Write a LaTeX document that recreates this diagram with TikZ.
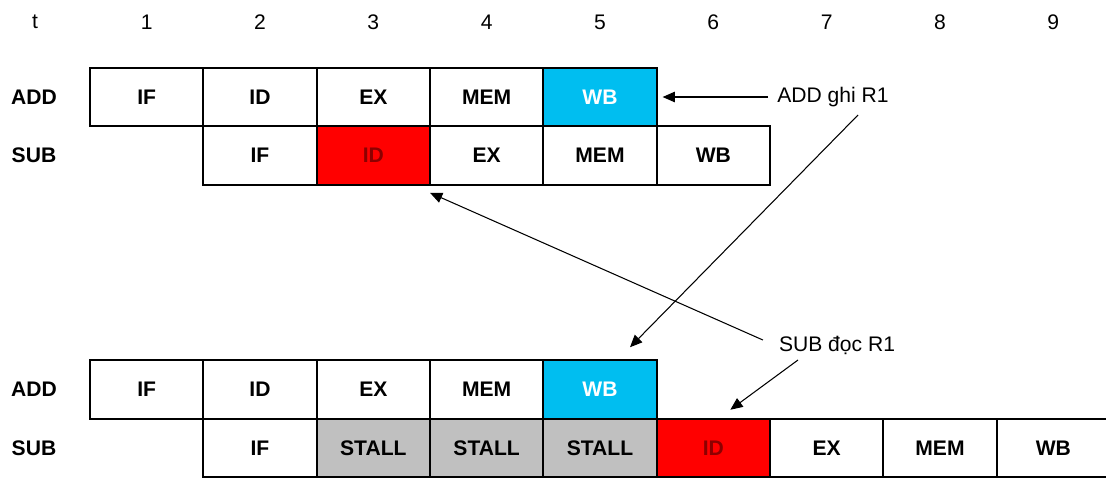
\documentclass[tikz,border=0pt]{standalone}
\usepackage{fontspec}
\setmainfont{Liberation Sans}
\usetikzlibrary{arrows.meta,calc}
\definecolor{wbblue}{RGB}{0,190,240}
\definecolor{hazred}{RGB}{255,0,0}
\definecolor{idtext}{RGB}{140,0,0}
\definecolor{stallgray}{RGB}{192,192,192}
\tikzset{
  cell/.style={draw, line width=1.2pt, minimum width=2.266cm, minimum height=1.17cm,
    inner sep=0pt, outer sep=0pt, font=\fontsize{12}{14}\selectfont\bfseries},
  wbcell/.style={cell, fill=wbblue, text=white},
  idcell/.style={cell, fill=hazred, text=idtext},
  stallcell/.style={cell, fill=stallgray},
  lab/.style={font=\fontsize{12}{14}\selectfont\bfseries},
  note/.style={inner sep=1pt, font=\fontsize{12}{14}\selectfont},
  ptr/.style={-{Triangle[length=7pt,width=6pt]}, line width=0.6pt}
}
\begin{document}
\begin{tikzpicture}[x=0.02cm,y=-0.02cm, font=\fontsize{12}{14}\selectfont]
\useasboundingbox (0,0) rectangle (1106,477);

% Time axis
\node (tt) at (35,22) {t};
\foreach \n in {1,...,9}{
  \node (t\n) at ({146.67+113.33*(\n-1)},22) {\n};
}

% Without stall
\node[lab] (addup) at (34,97) {ADD};
\node[lab] (subup) at (34,155.5) {SUB};
\foreach \lab/\sty [count=\i] in {IF/cell,ID/cell,EX/cell,MEM/cell,WB/wbcell}{
  \node[\sty] (a\i) at ({146.67+113.33*(\i-1)},97) {\lab};
}
\foreach \lab/\sty [count=\i] in {IF/cell,ID/idcell,EX/cell,MEM/cell,WB/cell}{
  \node[\sty] (s\i) at ({146.67+113.33*\i},155.5) {\lab};
}

% With stall
\node[lab] (adddn) at (34,389.5) {ADD};
\node[lab] (subdn) at (34,448) {SUB};
\foreach \lab/\sty [count=\i] in {IF/cell,ID/cell,EX/cell,MEM/cell,WB/wbcell}{
  \node[\sty] (b\i) at ({146.67+113.33*(\i-1)},389.5) {\lab};
}
\foreach \lab/\sty [count=\i] in {IF/cell,STALL/stallcell,STALL/stallcell,STALL/stallcell,ID/idcell,EX/cell,MEM/cell,WB/cell}{
  \node[\sty] (d\i) at ({146.67+113.33*\i},448) {\lab};
}

% Notes
\node[note] (ghi) at (833,97) {ADD ghi R1};
\node[note] (doc) at (837,345) {SUB đọc R1};

\draw[ptr] ($(ghi.west)+(-7,0)$) -- ($(a5.east |- ghi.west)+(6,0)$);
\draw[ptr] ($(ghi.center)+(25,18)$) -- ($(b5.north)+(30,-13)$);
\draw[ptr] ($(doc.west)+(-14,-5)$) -- ($(s2.south east)+(0,8)$);
\draw[ptr] ($(doc.center)+(-39,15)$) -- ($(d5.north)+(17,-9)$);
\end{tikzpicture}
\end{document}
